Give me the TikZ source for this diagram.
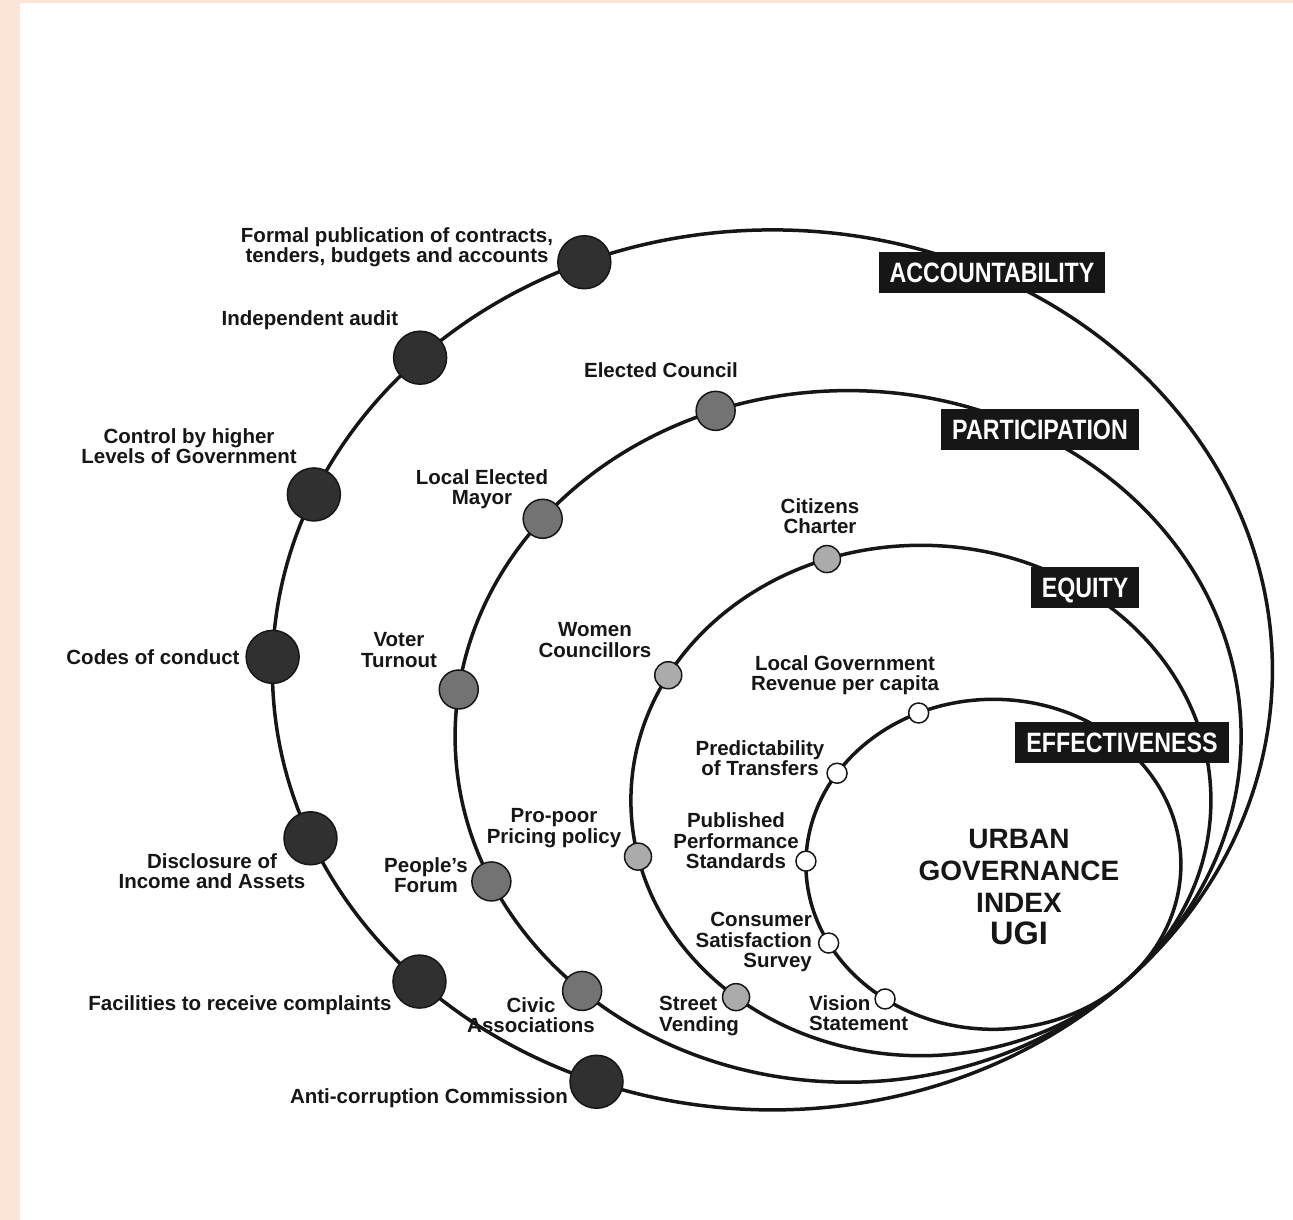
\documentclass[tikz,border=0pt]{standalone}
\usepackage{fontspec}
\setmainfont{Liberation Sans}
\newfontfamily\tagfamily[FakeStretch=0.83]{Liberation Sans}

\definecolor{peach}{RGB}{251,229,214}
\definecolor{ink}{RGB}{22,22,22}
\definecolor{accfill}{RGB}{48,48,48}
\definecolor{partfill}{RGB}{115,115,115}
\definecolor{eqfill}{RGB}{171,171,171}

\tikzset{
  ring/.style={line width=3.5pt, draw=ink},
  bead/.style={circle, draw=ink, line width=1.5pt, inner sep=0pt},
  accbead/.style={bead, fill=accfill, minimum size=53pt},
  partbead/.style={bead, fill=partfill, minimum size=39pt},
  eqbead/.style={bead, fill=eqfill, minimum size=27pt},
  effbead/.style={bead, fill=white, minimum size=20pt},
  lbl/.style={inner sep=0pt, align=center, text=ink, font=\fontsize{20.5}{20.5}\selectfont\bfseries},
  dimbox/.style={fill=ink, text=white, inner xsep=11pt, inner ysep=10.5pt, text height=20pt, text depth=0pt, font=\tagfamily\fontsize{28}{28}\selectfont\bfseries},
  ugitext/.style={inner sep=0pt, align=center, text=ink, font=\fontsize{28}{32}\selectfont\bfseries}
}

\begin{document}
\begin{tikzpicture}[x=1pt, y=-1pt]
        % page with peach edge on top and left
        \useasboundingbox (0,0) rectangle (1293,1220);
        \fill[peach] (0,0) rectangle (1293,1220);
        \fill[white] (20,3) rectangle (1293,1220);

        % four rings, all touching at the lower right, with bead spots on them
        \begin{scope}[shift={(772.4,669.9)}]
            \draw[ring] (0,0) ellipse [x radius=500pt, y radius=440pt];
            \foreach \n/\ang in {a1/-112.1, a2/-134.8, a3/-156.5, a4/-178.3, a5/157.5, a6/134.9, a7/110.6}
                \coordinate (\n) at (\ang:500 and 440);
        \end{scope}
        \begin{scope}[shift={(848.1,736.4)}]
            \draw[ring] (0,0) ellipse [x radius=393pt, y radius=345.8pt];
            \foreach \n/\ang in {p1/-109.7, p2/-141.0, p3/-172.2, p4/155.2, p5/132.6}
                \coordinate (\n) at (\ang:393 and 345.8);
        \end{scope}
        \begin{scope}[shift={(920.9,800.5)}]
            \draw[ring] (0,0) ellipse [x radius=290pt, y radius=255.2pt];
            \foreach \n/\ang in {e1/-108.9, e2/-150.6, e3/167.3, e4/129.6}
                \coordinate (\n) at (\ang:290 and 255.2);
        \end{scope}
        \begin{scope}[shift={(993.4,864.3)}]
            \draw[ring] (0,0) ellipse [x radius=187.5pt, y radius=165pt];
            \foreach \n/\ang in {f1/-113.5, f2/-146.5, f3/-178.9, f4/151.5, f5/125.3}
                \coordinate (\n) at (\ang:187.5 and 165);
        \end{scope}

        % beads on the rings
        \foreach \p in {a1,a2,a3,a4,a5,a6,a7}{
            \node[accbead] (\p-dot) at (\p) {};
        }
        \foreach \p in {p1,p2,p3,p4,p5}{
            \node[partbead] (\p-dot) at (\p) {};
        }
        \foreach \p in {e1,e2,e3,e4}{
            \node[eqbead] (\p-dot) at (\p) {};
        }
        \foreach \p in {f1,f2,f3,f4,f5}{
            \node[effbead] (\p-dot) at (\p) {};
        }

        % ring names
        \node[dimbox] (acc) at (992,272.5) {ACCOUNTABILITY};
        \node[dimbox] (part) at (1040,429) {PARTICIPATION};
        \node[dimbox] (eq) at (1085,587) {EQUITY};
        \node[dimbox] (eff) at (1122,742.5) {EFFECTIVENESS};

        % accountability labels
        \node[lbl] (a1-lbl) at (397,247) {Formal publication of contracts,\\tenders, budgets and accounts};
        \node[lbl] (a2-lbl) at (310,320) {Independent audit};
        \node[lbl] (a3-lbl) at (189,446) {Control by higher\\Levels of Government};
        \node[lbl] (a4-lbl) at (153,657) {Codes of conduct};
        \node[lbl] (a5-lbl) at (212,871) {Disclosure of\\Income and Assets};
        \node[lbl] (a6-lbl) at (240,1005) {Facilities to receive complaints};
        \node[lbl] (a7-lbl) at (429,1098) {Anti-corruption Commission};

        % participation labels
        \node[lbl] (p1-lbl) at (661,370) {Elected Council};
        \node[lbl] (p2-lbl) at (482,489) {Local Elected\\Mayor};
        \node[lbl] (p3-lbl) at (399,650) {Voter\\Turnout};
        \node[lbl] (p4-lbl) at (426,875) {People's\\Forum};
        \node[lbl] (p5-lbl) at (531,1015) {Civic\\Associations};

        % equity labels
        \node[lbl] (e1-lbl) at (820,516) {Citizens\\Charter};
        \node[lbl] (e2-lbl) at (595,640) {Women\\Councillors};
        \node[lbl] (e3-lbl) at (554,828) {Pro-poor\\Pricing policy};
        \node[lbl, align=left, anchor=west] (e4-lbl) at (659,1016) {Street\\Vending};

        % effectiveness labels
        \node[lbl] (f1-lbl) at (845,675) {Local Government\\Revenue per capita};
        \node[lbl] (f2-lbl) at (760,758) {Predictability\\of Transfers};
        \node[lbl] (f3-lbl) at (736,841) {Published\\Performance\\Standards};
        \node[lbl, align=right, anchor=east] (f4-lbl) at (812,942) {Consumer\\Satisfaction\\Survey};
        \node[lbl, align=left, anchor=west] (f5-lbl) at (809,1013) {Vision\\Statement};

        % index in the middle
        \node[ugitext] (ugi) at (1019,887) {URBAN\\GOVERNANCE\\INDEX\\{\fontsize{32.5}{32}\selectfont UGI}};

    \end{tikzpicture}
\end{document}
